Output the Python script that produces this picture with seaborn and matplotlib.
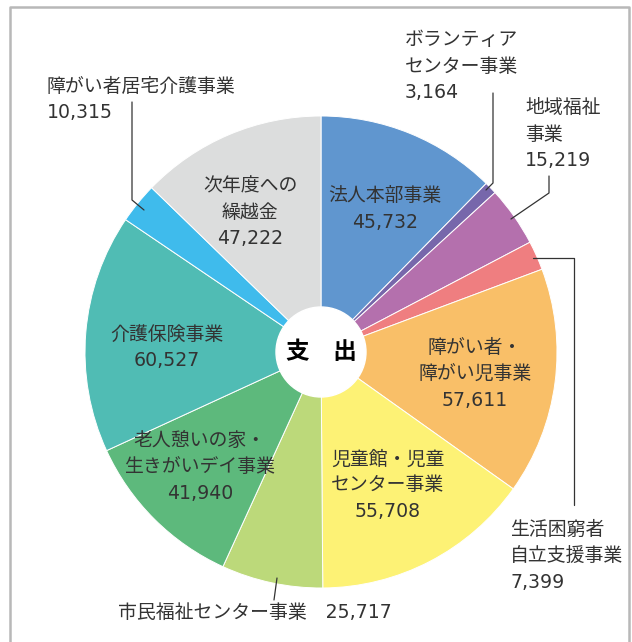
import matplotlib
matplotlib.use("Agg")
import matplotlib.pyplot as plt
import seaborn as sns

labels = ["法人本部事業", "ボランティア\nセンター事業", "地域福祉\n事業", "生活困窮者\n自立支援事業",
          "障がい者・\n障がい児事業", "児童館・児童\nセンター事業", "市民福祉センター事業",
          "老人憩いの家・\n生きがいデイ事業", "介護保険事業", "障がい者居宅介護事業", "次年度への\n繰越金"]
values = [45732, 3164, 15219, 7399, 57611, 55708, 25717, 41940, 60527, 10315, 47222]
colors = ["#6096cf", "#7767ab", "#b470ad", "#ef7e80", "#f9bf68", "#fdf275", "#bcd97a",
          "#5db97c", "#50bcb4", "#3fbbec", "#dcdddd"]

sns.set_theme(style="white")
# wide latin digits from DejaVu, kana/kanji fall back to Noto CJK
plt.rcParams["font.family"] = ["DejaVu Sans", "Noto Sans CJK JP"]

W, H = 632, 642
fig = plt.figure(figsize=(W / 100, H / 100), dpi=100)
ax = fig.add_axes([0, 0, 1, 1])


def Y(y):
    return H - y


cx, cy, r = 321, 352, 236
ax.pie(values, colors=sns.color_palette(colors), startangle=90, counterclock=False,
       center=(cx, Y(cy)), radius=r, frame=True,
       wedgeprops=dict(edgecolor="white", linewidth=0.7))
ax.set_xlim(0, W)
ax.set_ylim(0, H)
ax.set_aspect("equal")
ax.axis("off")

ax.add_patch(plt.Circle((cx, Y(cy)), 45, color="white", zorder=5))
ax.text(cx, Y(cy), "支　出", ha="center", va="center", fontsize=17, fontweight="bold",
        color="black", zorder=6, family="Noto Sans CJK JP")

txt = "#333333"
fs = 13.6
ls = 1.47

# inner labels
inner = [(0, 385, 209), (10, 250, 212), (8, 167, 347), (7, 200, 467), (5, 388, 485), (4, 475, 374)]
for i, x, y in inner:
    ax.text(x, Y(y), f"{labels[i]}\n{values[i]:,}", ha="center", va="center",
            fontsize=fs, color=txt, linespacing=ls, zorder=4)

# outer labels (left edge, vertical centre)
outer = [(1, 405, 66), (2, 525, 134), (3, 510, 556), (9, 47, 99)]
for i, x, y in outer:
    ax.text(x, Y(y), f"{labels[i]}\n{values[i]:,}", ha="left", va="center", fontsize=fs,
            color=txt, linespacing=ls)
ax.text(118, Y(612), f"{labels[6]}　{values[6]:,}", ha="left", va="center", fontsize=fs,
        color=txt)

# leader lines
lc = "#333333"
lines = [
    ([493, 493, 486], [93, 183, 190]),
    ([549, 549, 511], [176, 193, 219]),
    ([533, 574, 574], [258, 258, 505]),
    ([132, 132, 144], [102, 200, 210]),
    ([277, 274], [578, 600]),
]
for xs, ys in lines:
    ax.plot(xs, [Y(y) for y in ys], color=lc, linewidth=0.9, zorder=3)

# frame
fc = "#b8b8b8"
ax.plot([10, 10, 629, 629], [Y(650), Y(7), Y(7), Y(650)], color=fc, linewidth=1.8,
        clip_on=False)

fig.savefig("out.png", dpi=100)
